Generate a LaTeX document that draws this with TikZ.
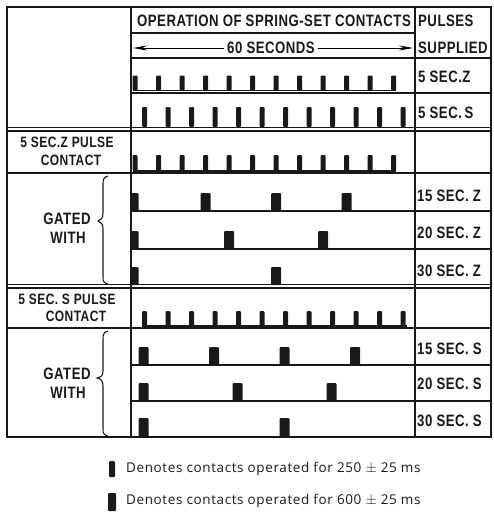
\documentclass[tikz,border=0pt]{standalone}
\usepackage{fontspec}
\setmainfont{Liberation Sans}
\newfontfamily\hdfont[FakeStretch=0.80,LetterSpace=3]{Liberation Sans}
\newfontfamily\lgfont[LetterSpace=4.5]{Open Sans}
\usetikzlibrary{arrows.meta}
\definecolor{ink}{gray}{0.1}
\begin{document}
\begin{tikzpicture}[x=1pt,y=-1pt,
  grid/.style={line width=1.8pt,draw=ink},
  thingrid/.style={line width=1.3pt,draw=ink},
  base/.style={line width=1.2pt,draw=ink},
  hd/.style={font=\hdfont\bfseries\fontsize{16.5}{14}\selectfont,inner sep=0pt,text=ink},
  hds/.style={font=\hdfont\bfseries\fontsize{15}{14}\selectfont,inner sep=0pt,text=ink},
  lg/.style={font=\lgfont\fontsize{13.5}{15}\selectfont,inner sep=0pt,text=ink,anchor=west},
  pulsefill/.style={fill=ink,rounded corners=1pt}]
\useasboundingbox (0,0) rectangle (493,514);
\newcommand\pulse[4]{\fill[pulsefill] ({#1-#3/2},#2) rectangle ({#1+#3/2},{#2-#4});}
% ---- table grid
\draw[grid] (7,7) rectangle (491,437);
\draw[grid] (131,7) -- (131,437);
\draw[grid] (415,7) -- (415,437);
\draw[grid] (131,33) -- (415,33);
\draw[grid] (131,58) -- (491,58);
\draw[grid] (131,93) -- (491,93);
\draw[thingrid] (7,127.5) -- (491,127.5);
\draw[thingrid] (7,131) -- (491,131);
\draw[grid] (7,173) -- (491,173);
\draw[grid] (131,211) -- (491,211);
\draw[grid] (131,249) -- (491,249);
\draw[thingrid] (7,284.5) -- (491,284.5);
\draw[thingrid] (7,288) -- (491,288);
\draw[grid] (7,328) -- (491,328);
\draw[grid] (131,365) -- (491,365);
\draw[grid] (131,401) -- (491,401);
% ---- header
\node[hd] (op) at (274,21) {OPERATION OF SPRING-SET CONTACTS};
\node[hd,anchor=west] (pul) at (418,21) {PULSES};
\node[hd,inner xsep=3pt] (sixty) at (271,48) {60 SECONDS};
\node[hd,anchor=west] (sup) at (418,48) {SUPPLIED};
\coordinate (aL) at (133,48);
\coordinate (aR) at (413,48);
\draw[line width=1pt,-{Stealth[length=14pt,width=5pt]}] (sixty.west) -- (aL);
\draw[line width=1pt,-{Stealth[length=14pt,width=5pt]}] (sixty.east) -- (aR);
% ---- right labels
\node[hd,anchor=west] (r1) at (418,77) {5 SEC.Z};
\node[hd,anchor=west] (r2) at (418,112.5) {5 SEC.\,S};
\node[hd,anchor=west] (r3) at (417,196) {15 SEC. Z};
\node[hd,anchor=west] (r4) at (417,233) {20 SEC. Z};
\node[hd,anchor=west] (r5) at (417,271) {30 SEC. Z};
\node[hd,anchor=west] (r6) at (417,349) {15 SEC. S};
\node[hd,anchor=west] (r7) at (417,384) {20 SEC. S};
\node[hd,anchor=west] (r8) at (417,421) {30 SEC. S};
% ---- left labels
\node[hds] (zc1) at (67,142) {5 SEC.Z PULSE};
\node[hds] (zc2) at (71,160) {CONTACT};
\node[hd] (zg1) at (67,219) {GATED};
\node[hd] (zg2) at (68,237.5) {WITH};
\node[hds] (sc1) at (67,299) {5 SEC. S PULSE};
\node[hds] (sc2) at (76,316) {CONTACT};
\node[hd] (sg1) at (67,374) {GATED};
\node[hd] (sg2) at (68,392.5) {WITH};
% braces
\draw[line width=1.1pt,ink] (108,176) .. controls (104,177) and (103,179) .. (103,184) -- (103,213)
  .. controls (103,218) and (101,220) .. (98,221) .. controls (101,222) and (103,224) .. (103,229)
  -- (103,277) .. controls (103,282) and (104,283) .. (108,284);
\draw[line width=1.1pt,ink] (108,331) .. controls (104,332) and (103,334) .. (103,339) -- (103,371)
  .. controls (103,376) and (101,377) .. (97,378) .. controls (101,379) and (103,381) .. (103,386)
  -- (103,429) .. controls (103,434) and (104,435) .. (108,436);
% ---- waveforms
% 5 sec Z supplied
\draw[base] (133,90.5) -- (396,90.5);
\foreach \i in {0,...,11}{\pulse{135+23.5*\i}{90.5}{5}{15}}
% 5 sec S supplied
\foreach \i in {0,...,11}{\pulse{144.5+23.5*\i}{127}{5}{20}}
% Z pulse contact
\draw[base] (133,171) -- (396,171);
\foreach \i in {0,...,11}{\pulse{135+23.5*\i}{171}{5}{16}}
% Z gated
\fill[pulsefill] (131,211) rectangle (138.5,193);
\foreach \i in {3,6,9}{\pulse{135+23.5*\i}{211}{10}{18}}
\fill[pulsefill] (131,249) rectangle (138.5,231);
\foreach \i in {4,8}{\pulse{135+23.5*\i}{249}{10}{18}}
\fill[pulsefill] (131,285) rectangle (138.5,267);
\foreach \i in {6}{\pulse{135+23.5*\i}{285}{10}{18}}
% S pulse contact
\draw[base] (142,326) -- (407,326);
\foreach \i in {0,...,11}{\pulse{144.5+23.5*\i}{326}{5}{15}}
% S gated
\foreach \i in {0,3,6,9}{\pulse{143.5+23.5*\i}{365}{10}{18}}
\foreach \i in {0,4,8}{\pulse{143.5+23.5*\i}{401}{10}{18}}
\foreach \i in {0,6}{\pulse{143.5+23.5*\i}{437}{10}{19}}
% ---- legend
\fill[pulsefill] (109,461) rectangle (115,477);
\node[lg] (l1) at (126,469) {Denotes contacts operated for 250 $\pm$ 25 ms};
\fill[pulsefill] (108,493) rectangle (116,511);
\node[lg] (l2) at (126,501) {Denotes contacts operated for 600 $\pm$ 25 ms};
\end{tikzpicture}
\end{document}
